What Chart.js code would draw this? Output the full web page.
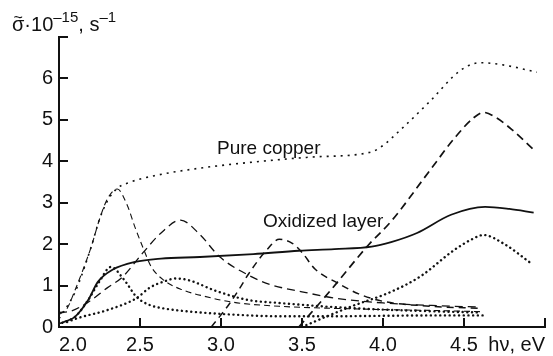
<!DOCTYPE html>
<html>
<head>
<meta charset="utf-8">
<script src="https://cdn.jsdelivr.net/npm/chart.js@4/dist/chart.umd.min.js"></script>
<style>
  body { margin: 0; background: #fff; }
  #c { display: block; }
</style>
</head>
<body>
<canvas id="c" width="553" height="356"></canvas>
<script>
(() => {
  'use strict';

  // photon energy ticks (eV) and conductivity ticks
  const X_TICKS = [2.0, 2.5, 3.0, 3.5, 4.0, 4.5, 5.0];
  const X_LABELS = ['2.0', '2.5', '3.0', '3.5', '4.0', '4.5', 'hν, eV'];
  const Y_TICKS = [0, 1, 2, 3, 4, 5, 6, 7];
  const Y_LABELS = ['0', '1', '2', '3', '4', '5', '6', ''];

  // pure copper (fine dotted)
  const copperE = [2.0, 2.1, 2.2, 2.25, 2.3, 2.36, 2.42, 2.6, 2.9, 3.25, 3.55, 3.9, 3.97, 4.13, 4.29, 4.48, 4.6, 4.75, 4.95];
  const copperS = [0.2, 0.85, 1.95, 2.6, 3.05, 3.35, 3.47, 3.66, 3.85, 4.0, 4.1, 4.2, 4.3, 4.84, 5.45, 6.2, 6.38, 6.32, 6.15];

  // oxidized layer (solid)
  const oxideE = [2.0, 2.05, 2.1, 2.18, 2.24, 2.33, 2.47, 2.63, 2.87, 3.2, 3.48, 3.7, 3.93, 4.05, 4.21, 4.42, 4.63, 4.78, 4.93];
  const oxideS = [0.08, 0.15, 0.25, 0.65, 1.09, 1.38, 1.57, 1.65, 1.69, 1.76, 1.84, 1.88, 1.94, 2.05, 2.27, 2.71, 2.9, 2.85, 2.76];

  // oscillator 1, thin dashes
  const osc1E = [2.0, 2.05, 2.1, 2.15, 2.2, 2.25, 2.3, 2.36, 2.42, 2.47, 2.52, 2.57, 2.65, 2.76, 2.9, 3.07, 3.36, 3.7, 4.0, 4.3, 4.6];
  const osc1S = [0.3, 0.45, 0.9, 1.4, 1.95, 2.6, 3.1, 3.33, 2.95, 2.4, 1.9, 1.45, 1.12, 0.9, 0.74, 0.6, 0.5, 0.45, 0.42, 0.4, 0.37];

  // oscillator 2, medium dashes
  const osc2E = [2.0, 2.07, 2.18, 2.3, 2.39, 2.52, 2.63, 2.75, 2.87, 2.99, 3.17, 3.3, 3.5, 3.7, 4.0, 4.3, 4.6];
  const osc2S = [0.35, 0.38, 0.6, 0.95, 1.2, 1.8, 2.27, 2.58, 2.23, 1.7, 1.25, 1.03, 0.85, 0.7, 0.58, 0.52, 0.48];

  // oscillator 3, medium dashes
  const osc3E = [2.94, 3.05, 3.11, 3.17, 3.28, 3.36, 3.44, 3.5, 3.58, 3.72, 3.85, 4.0, 4.3, 4.6];
  const osc3S = [0, 0.55, 0.9, 1.28, 1.85, 2.12, 2.02, 1.8, 1.4, 1.06, 0.8, 0.62, 0.5, 0.45];

  // oscillator 4, long dashes
  const osc4E = [3.48, 3.68, 3.91, 4.05, 4.28, 4.45, 4.56, 4.62, 4.7, 4.8, 4.93];
  const osc4S = [0, 0.9, 1.98, 2.55, 3.73, 4.6, 5.05, 5.18, 5.05, 4.75, 4.28];

  // oscillator 5, dots
  const osc5E = [2.02, 2.1, 2.18, 2.25, 2.32, 2.4, 2.48, 2.56, 2.63, 2.76, 3.07, 3.36, 3.7, 4.0, 4.3, 4.62];
  const osc5S = [0.1, 0.25, 0.65, 1.1, 1.45, 1.15, 0.72, 0.53, 0.46, 0.39, 0.3, 0.26, 0.26, 0.27, 0.28, 0.28];

  // oscillator 6, dots
  const osc6E = [2.05, 2.12, 2.3, 2.48, 2.56, 2.65, 2.72, 2.8, 2.97, 3.17, 3.36, 3.7, 4.0, 4.3, 4.6];
  const osc6S = [0.12, 0.22, 0.41, 0.7, 0.95, 1.1, 1.17, 1.13, 0.87, 0.65, 0.58, 0.48, 0.42, 0.38, 0.35];

  // oscillator 7, dots
  const osc7E = [3.5, 3.65, 3.8, 4.05, 4.23, 4.44, 4.55, 4.62, 4.75, 4.91];
  const osc7S = [0, 0.25, 0.49, 0.85, 1.22, 1.86, 2.12, 2.22, 2.0, 1.55];

  const FONT = '"Liberation Sans", Arial, Helvetica, sans-serif';
  const INK = '#111';

  const pts = (xs, ys) => xs.map((x, i) => ({ x: x, y: ys[i] }));

  const line = (xs, ys, width, dash, cap) => ({
    data: pts(xs, ys),
    borderColor: INK,
    borderWidth: width,
    borderDash: dash,
    borderCapStyle: cap || 'butt',
    pointRadius: 0,
    fill: false,
    cubicInterpolationMode: 'monotone',
  });

  const DOTS = [0.1, 4.6];

  // inward ticks, axis title and curve labels
  const decor = {
    id: 'decor',
    afterDraw(chart) {
      const ctx = chart.ctx,
            xs = chart.scales.x,
            ys = chart.scales.y,
            area = chart.chartArea;
      ctx.save();
      ctx.strokeStyle = INK;
      ctx.lineWidth = 2;
      ctx.beginPath();
      X_TICKS.slice(1).forEach((v) => {
        const px = Math.round(xs.getPixelForValue(v));
        ctx.moveTo(px, area.bottom);
        ctx.lineTo(px, area.bottom - 9);
      });
      Y_TICKS.slice(1).forEach((v) => {
        const py = Math.round(ys.getPixelForValue(v));
        ctx.moveTo(area.left, py);
        ctx.lineTo(area.left + 9, py);
      });
      ctx.stroke();

      ctx.fillStyle = INK;
      ctx.textBaseline = 'alphabetic';
      ctx.textAlign = 'left';

      // y axis title: sigma~ * 10^-15, s^-1
      const big = '20px ' + FONT, small = '15px ' + FONT;
      let x = 12;
      const base = 31, sup = 22;
      const put = (t, f, y) => {
        ctx.font = f;
        ctx.fillText(t, x, y);
        x += ctx.measureText(t).width;
      };
      ctx.font = big;
      const sw = ctx.measureText('σ').width;
      ctx.fillText('σ', x, base);
      ctx.font = '16px ' + FONT;
      ctx.fillText('~', x + (sw - ctx.measureText('~').width) / 2, base - 8);
      x += sw;
      put('·10', big, base);
      put('–15', small, sup);
      put(', s', big, base);
      put('–1', small, sup);

      // curve labels
      ctx.font = '19px ' + FONT;
      ctx.fillText('Pure copper', 217, 154);
      ctx.fillText('Oxidized layer', 263, 227);
      ctx.restore();
    },
  };

  new Chart(document.getElementById('c'), {
    type: 'line',
    data: {
      datasets: [
        line(copperE, copperS, 1.6, [2, 5]),
        line(oxideE, oxideS, 1.8, []),
        line(osc1E, osc1S, 1.1, [6, 4]),
        line(osc2E, osc2S, 1.3, [8, 5]),
        line(osc3E, osc3S, 1.5, [7, 5]),
        line(osc4E, osc4S, 1.7, [8, 5]),
        line(osc5E, osc5S, 2.4, DOTS, 'round'),
        line(osc6E, osc6S, 2.4, DOTS, 'round'),
        line(osc7E, osc7S, 2.4, DOTS, 'round'),
      ],
    },
    options: {
      responsive: false,
      animation: false,
      events: [],
      layout: { padding: { top: 37, right: 8, left: 0, bottom: 0 } },
      plugins: {
        legend: { display: false },
        tooltip: { enabled: false },
      },
      scales: {
        x: {
          type: 'linear',
          min: 2,
          max: 5,
          afterFit: (s) => { s.height = 29; },
          afterBuildTicks: (s) => { s.ticks = X_TICKS.map((v) => ({ value: v })); },
          grid: { display: false, drawTicks: false },
          border: { display: true, color: INK, width: 2 },
          ticks: {
            autoSkip: false,
            maxRotation: 0,
            align: 'inner',
            padding: 6,
            color: INK,
            font: { family: FONT, size: 20 },
            callback: (v) => X_LABELS[X_TICKS.indexOf(v)] ?? '',
          },
        },
        y: {
          min: 0,
          max: 7,
          afterFit: (s) => { s.width = 59; },
          afterBuildTicks: (s) => { s.ticks = Y_TICKS.map((v) => ({ value: v })); },
          grid: { display: false, drawTicks: false },
          border: { display: true, color: INK, width: 2 },
          ticks: {
            padding: 6,
            color: INK,
            font: { family: FONT, size: 20 },
            callback: (v) => Y_LABELS[Y_TICKS.indexOf(v)] ?? '',
          },
        },
      },
    },
    plugins: [decor],
  });
})();
</script>
</body>
</html>
